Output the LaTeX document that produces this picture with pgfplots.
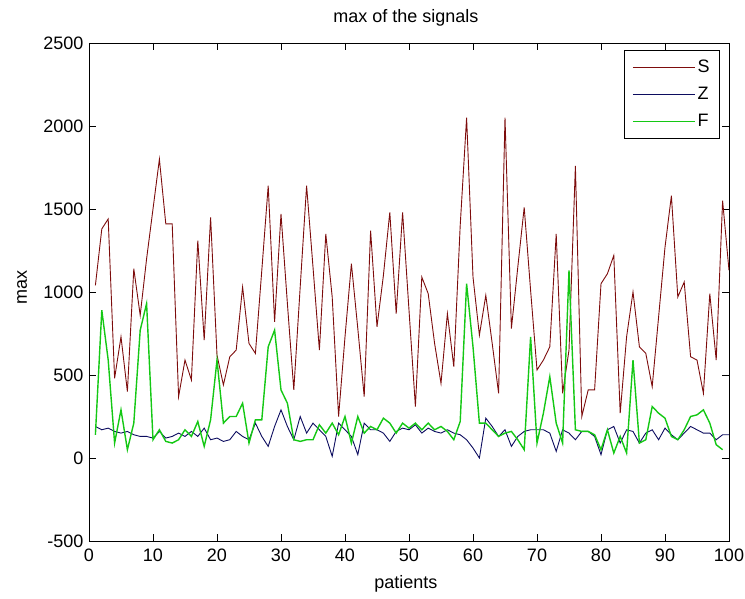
\documentclass[border=0pt]{standalone}
\usepackage{fontspec}
\setmainfont{Liberation Sans}
\usepackage{pgfplots}
\pgfplotsset{compat=1.18}
\definecolor{sred}{RGB}{125,12,12}
\definecolor{zblue}{RGB}{12,12,95}
\definecolor{fgreen}{RGB}{20,200,20}
\newcommand{\fs}{\fontsize{18bp}{21bp}\selectfont}
\begin{document}
\begin{tikzpicture}
\useasboundingbox (-89bp,-58bp) rectangle (656bp,541bp);
\begin{axis}[
  scale only axis, width=640bp, height=498bp,
  at={(0,0)}, anchor=south west,
  xmin=0, xmax=100, ymin=-500, ymax=2500,
  xtick={0,10,...,100}, xticklabels={0,10,20,30,40,50,60,70,80,90,100},
  ytick={-500,0,500,1000,1500,2000,2500}, yticklabels={-500,0,500,1000,1500,2000,2500},
  tick align=inside, major tick length=7bp,
  axis line style={black, line width=0.8bp},
  every tick/.style={black, line width=0.8bp},
  tick label style={font=\fs},
  xticklabel style={yshift=-4bp},
  yticklabel style={xshift=-2bp},
  title={max of the signals}, title style={font=\fs, at={(axis description cs:0.495,1.03)}, anchor=base},
  xlabel={patients}, xlabel style={font=\fs, at={(axis description cs:0.495,-0.0944)}, anchor=base},
  ylabel={max},
  every axis y label/.style={font=\fs, at={(axis description cs:-0.0969,0.51)}, anchor=base, rotate=90},
  legend style={font=\fs, at={(axis description cs:0.986,0.986)}, anchor=north east, draw=black, line width=0.8bp, legend cell align=left, row sep=9bp, inner xsep=8bp, inner ysep=8bp},
  legend image code/.code={\draw[#1] (0bp,0bp) -- (62bp,0bp);},
]
\addplot[sred, line width=0.9bp] table[x=i,y=v] {
i v
1 1040
2 1380
3 1440
4 480
5 730
6 400
7 1140
8 860
9 1200
10 1500
11 1800
12 1410
13 1410
14 370
15 590
16 470
17 1310
18 710
19 1450
20 620
21 440
22 610
23 650
24 1030
25 690
26 630
27 1130
28 1640
29 820
30 1470
31 930
32 410
33 1030
34 1640
35 1150
36 650
37 1350
38 970
39 250
40 730
41 1170
42 780
43 370
44 1370
45 790
46 1100
47 1480
48 870
49 1480
50 890
51 310
52 1090
53 990
54 690
55 450
56 870
57 550
58 1400
59 2050
60 1090
61 740
62 980
63 690
64 390
65 2050
66 780
67 1150
68 1510
69 1010
70 530
71 590
72 670
73 1350
74 390
75 650
76 1760
77 250
78 410
79 410
80 1050
81 1110
82 1220
83 270
84 730
85 1000
86 670
87 630
88 430
89 850
90 1270
91 1580
92 970
93 1060
94 610
95 590
96 390
97 990
98 590
99 1550
100 1130
};
\addlegendentry{S}
\addplot[zblue, line width=0.9bp] table[x=i,y=v] {
i v
1 190
2 170
3 180
4 160
5 150
6 160
7 140
8 130
9 130
10 120
11 160
12 120
13 130
14 150
15 130
16 160
17 130
18 180
19 110
20 120
21 100
22 110
23 160
24 130
25 110
26 210
27 130
28 70
29 190
30 290
31 190
32 110
33 250
34 150
35 210
36 170
37 130
38 10
39 210
40 170
41 130
42 20
43 210
44 170
45 170
46 150
47 100
48 160
49 180
50 170
51 200
52 150
53 180
54 160
55 150
56 170
57 150
58 140
59 110
60 60
61 0
62 240
63 190
64 130
65 170
66 70
67 130
68 160
69 170
70 170
71 170
72 150
73 40
74 170
75 150
76 110
77 160
78 160
79 130
80 20
81 170
82 190
83 90
84 170
85 160
86 90
87 150
88 170
89 110
90 180
91 140
92 110
93 150
94 190
95 170
96 150
97 150
98 110
99 140
100 140
};
\addlegendentry{Z}
\addplot[fgreen, line width=1.4bp] table[x=i,y=v] {
i v
1 140
2 890
3 590
4 90
5 290
6 50
7 210
8 770
9 930
10 110
11 170
12 100
13 90
14 110
15 170
16 130
17 220
18 70
19 230
20 590
21 210
22 250
23 250
24 330
25 90
26 230
27 230
28 670
29 770
30 410
31 330
32 110
33 100
34 110
35 110
36 200
37 150
38 210
39 140
40 250
41 90
42 250
43 150
44 190
45 170
46 240
47 210
48 150
49 210
50 180
51 210
52 170
53 210
54 170
55 190
56 160
57 110
58 220
59 1050
60 670
61 210
62 210
63 170
64 130
65 150
66 160
67 110
68 50
69 730
70 90
71 270
72 490
73 210
74 90
75 1130
76 170
77 160
78 160
79 140
80 50
81 170
82 30
83 130
84 30
85 590
86 90
87 110
88 310
89 270
90 240
91 130
92 110
93 170
94 250
95 260
96 290
97 210
98 80
99 50
};
\addlegendentry{F}
\end{axis}
\end{tikzpicture}
\end{document}
